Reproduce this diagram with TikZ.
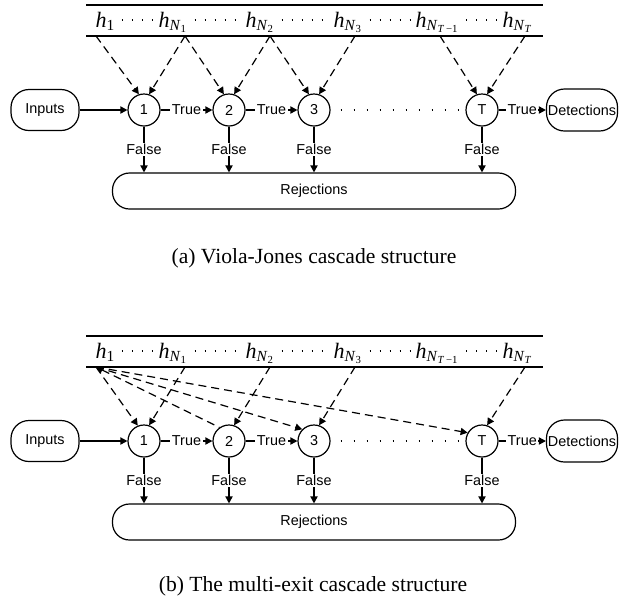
\documentclass[tikz,border=0pt]{standalone}
\usepackage{fontspec}
\setmainfont{Liberation Serif}
\setsansfont{Liberation Sans}
\usetikzlibrary{arrows.meta}
\newcommand{\hsub}[1]{\textit{h}\textsubscript{#1}}
\newcommand{\Nsub}[1]{\textit{N}\textsubscript{#1}}

\begin{document}
\begin{tikzpicture}[x=0.5pt,y=-0.5pt,line width=0.6pt,
   sf/.style={font=\sffamily\fontsize{7.2}{8}\selectfont},
   stage/.style={draw,circle,minimum size=16pt,inner sep=0pt,sf},
   term/.style={draw,rounded corners=9pt,inner sep=0pt,sf},
   lbl/.style={fill=white,inner sep=0.8pt,sf},
   hl/.style={anchor=base west,inner sep=0pt,font=\fontsize{11}{13}\selectfont},
   arr/.style={-{Triangle[length=3.5pt,width=3.6pt]}},
   weak/.style={arr,dash pattern=on 4pt off 2.5pt},
   hdots/.style={dash pattern=on 0.6pt off 4.4pt},
   cdots/.style={dash pattern=on 0.6pt off 5.9pt}]
   \useasboundingbox (0,0) rectangle (619,601);
   \foreach \p/\s in {a/0pt,b/-165.5pt}{
   \begin{scope}[yshift=\s]
   \draw[line width=1pt] (86,5) -- (543,5);
   \draw[line width=1pt] (86,36) -- (543,36);
   \node[hl] (h1\p) at (95,27) {\hsub{1}};
   \node[hl] (hN1\p) at (158,27) {\hsub{\Nsub{1}}};
   \node[hl] (hN2\p) at (245,27) {\hsub{\Nsub{2}}};
   \node[hl] (hN3\p) at (333,27) {\hsub{\Nsub{3}}};
   \node[hl] (hNT1\p) at (415,27) {\hsub{\Nsub{\textit{T}\,−1}}};
   \node[hl] (hNT\p) at (502,27) {\hsub{\Nsub{\textit{T}}}};
   \draw[hdots] ([xshift=3pt,yshift=3.5pt]h1\p.base east) -- ([xshift=-2pt,yshift=3.5pt]hN1\p.base west);
   \draw[hdots] ([xshift=3pt,yshift=3.5pt]hN1\p.base east) -- ([xshift=-2pt,yshift=3.5pt]hN2\p.base west);
   \draw[hdots] ([xshift=3pt,yshift=3.5pt]hN2\p.base east) -- ([xshift=-2pt,yshift=3.5pt]hN3\p.base west);
   \draw[hdots] ([xshift=3pt,yshift=3.5pt]hN3\p.base east) -- ([xshift=-2pt,yshift=3.5pt]hNT1\p.base west);
   \draw[hdots] ([xshift=3pt,yshift=3.5pt]hNT1\p.base east) -- ([xshift=-2pt,yshift=3.5pt]hNT\p.base west);
   \coordinate (p1\p) at (96,36);
   \coordinate (pN1\p) at (185,36);
   \coordinate (pN2\p) at (270,36);
   \coordinate (pN3\p) at (355,36);
   \coordinate (pNT1\p) at (440,36);
   \coordinate (pNT\p) at (525,36);
   % stages
   \node[term,minimum width=34pt,minimum height=20.5pt] (in\p) at (45,110) {Inputs};
   \node[stage] (c1\p) at (144,110) {1};
   \node[stage] (c2\p) at (229,110) {2};
   \node[stage] (c3\p) at (314,110) {3};
   \node[stage] (cT\p) at (482,110) {T};
   \node[term,minimum width=35.5pt,minimum height=21pt] (det\p) at (582,110) {Detections};
   \node[term,rounded corners=8.5pt,minimum width=201.5pt,minimum height=18pt] (rej\p) at (314,191) {Rejections};
   \draw[arr] (in\p) -- (c1\p);
   \draw[arr] (c1\p) -- node[lbl]{True} (c2\p);
   \draw[arr] (c2\p) -- node[lbl]{True} (c3\p);
   \draw[cdots] ([xshift=5pt]c3\p.east) -- ([xshift=-3pt]cT\p.west);
   \draw[arr] (cT\p) -- node[lbl]{True} (det\p);
   \draw[arr] (c1\p) -- node[lbl]{False} (c1\p |- rej\p.north);
   \draw[arr] (c2\p) -- node[lbl]{False} (c2\p |- rej\p.north);
   \draw[arr] (c3\p) -- node[lbl]{False} (c3\p |- rej\p.north);
   \draw[arr] (cT\p) -- node[lbl]{False} (cT\p |- rej\p.north);
   \end{scope}}
   % (a) one weak learner range per stage
   \draw[weak] (p1a) -- (c1a.108);
   \draw[weak] (pN1a) -- (c1a.72);
   \draw[weak] (pN1a) -- (c2a.108);
   \draw[weak] (pN2a) -- (c2a.72);
   \draw[weak] (pN2a) -- (c3a.108);
   \draw[weak] (pN3a) -- (c3a.72);
   \draw[weak] (pNT1a) -- (cTa.108);
   \draw[weak] (pNTa) -- (cTa.72);
   % (b) all stages start from h_1
   \draw[weak] (p1b) -- (c1b.112);
   \draw[weak] (pN1b) -- (c1b.72);
   \draw[weak,{Triangle[length=3.5pt,width=3.6pt]}-] (p1b) -- (c2b.125);
   \draw[weak] (pN2b) -- (c2b.72);
   \draw[weak] (p1b) -- (c3b.135);
   \draw[weak] (pN3b) -- (c3b.72);
   \draw[weak] (p1b) -- (cTb.150);
   \draw[weak] (pNTb) -- (cTb.72);
   \node[font=\fontsize{10.8}{13}\selectfont] (capa) at (314,258) {(a) Viola-Jones cascade structure};
   \node[font=\fontsize{10.8}{13}\selectfont] (capb) at (313,586) {(b) The multi-exit cascade structure};
\end{tikzpicture}
\end{document}
